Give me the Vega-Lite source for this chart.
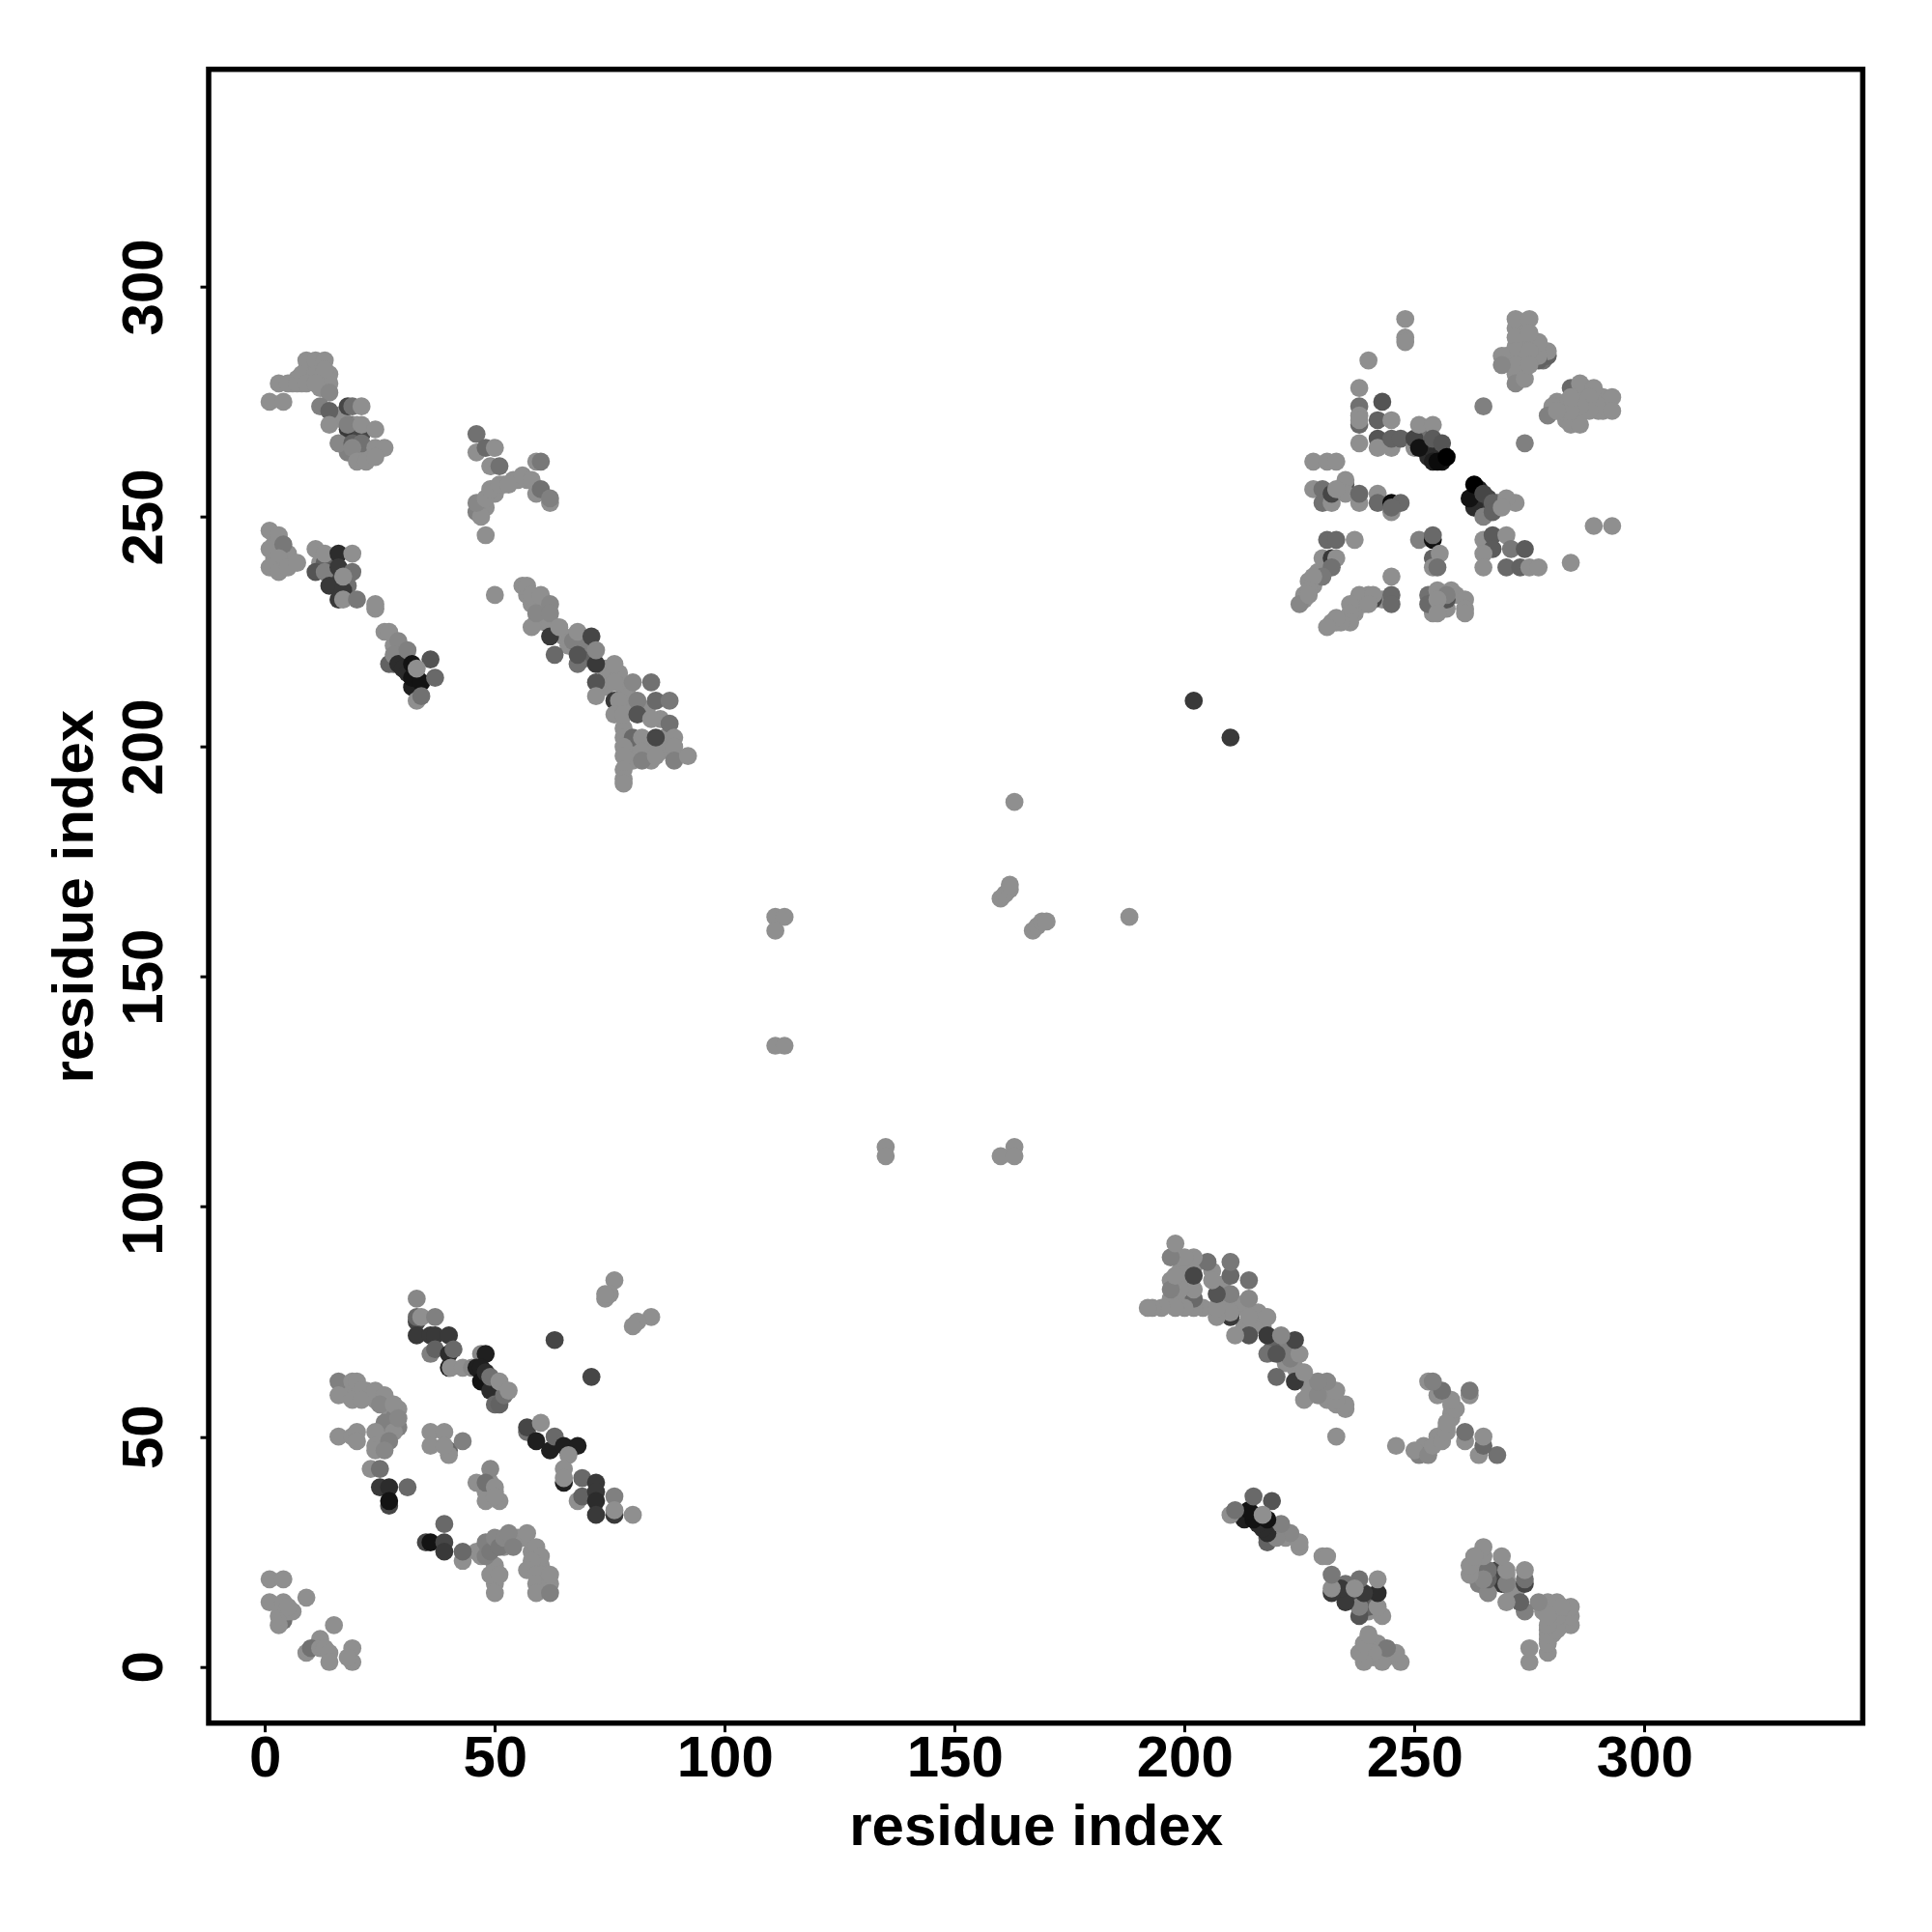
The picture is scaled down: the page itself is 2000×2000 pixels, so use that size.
{"$schema":"https://vega.github.io/schema/vega-lite/v6.json","autosize":{"type":"none"},"padding":{"left":216,"top":71.7,"right":71.7,"bottom":216.3},"width":1712.3,"height":1712,"background":"white","view":{"stroke":"black","strokeWidth":5.5,"fill":"white"},"data":{"values":[
{"i":272,"j":291,"s":0},{"i":272,"j":287,"s":0},{"i":272,"j":285,"s":0},{"i":272,"j":281,"s":0},{"i":273,"j":292,"s":0},{"i":273,"j":290,"s":0},{"i":273,"j":288,"s":0},{"i":273,"j":286,"s":0},{"i":273,"j":284,"s":0},{"i":273,"j":282,"s":0},{"i":273,"j":280,"s":0},{"i":274,"j":291,"s":0},{"i":274,"j":288,"s":0},{"i":274,"j":285,"s":0},{"i":274,"j":283,"s":0},{"i":275,"j":288,"s":0},{"i":276,"j":288,"s":0},{"i":276,"j":286,"s":0},{"i":276,"j":284,"s":0},{"i":278,"j":286,"s":0},{"i":278,"j":284,"s":0.2},{"i":270,"j":285,"s":0},{"i":271,"j":285,"s":0},{"i":271,"j":283,"s":0},
{"i":285,"j":278,"s":0},{"i":287,"j":278,"s":0},{"i":287,"j":276,"s":0},{"i":285,"j":276,"s":0},{"i":290,"j":276,"s":0},{"i":291,"j":276,"s":0},{"i":290,"j":273,"s":0},{"i":291,"j":273,"s":0},{"i":287,"j":273,"s":0},{"i":285,"j":273,"s":0},{"i":283,"j":273,"s":0},{"i":282,"j":273,"s":0},{"i":289,"j":275,"s":0},{"i":286,"j":277,"s":0},{"i":283,"j":271,"s":0},{"i":285,"j":271,"s":0},{"i":287,"j":274,"s":0},{"i":281,"j":275,"s":0},{"i":282,"j":274,"s":0},{"i":290,"j":274,"s":0},
{"i":9,"j":282,"s":0},{"i":10,"j":283,"s":0},{"i":12,"j":283,"s":0},{"i":10,"j":281,"s":0},{"i":12,"j":281,"s":0},{"i":12,"j":280,"s":0},{"i":9,"j":281,"s":0},{"i":10,"j":280,"s":0},{"i":12,"j":278,"s":0},{"i":13,"j":279,"s":0},{"i":14,"j":279,"s":0},{"i":8,"j":279,"s":0},{"i":6,"j":279,"s":0},{"i":7,"j":280,"s":0},{"i":13,"j":280,"s":0},{"i":14,"j":281,"s":0},
{"i":57,"j":233,"s":0},{"i":58,"j":231,"s":0},{"i":59,"j":231,"s":0},{"i":60,"j":230,"s":0},{"i":60,"j":228,"s":0},{"i":61,"j":227,"s":0},{"i":59,"j":227,"s":0},{"i":62,"j":227,"s":0},{"i":63,"j":225,"s":0},{"i":65,"j":224,"s":0},{"i":66,"j":222,"s":0},{"i":67,"j":223,"s":0.1},{"i":70,"j":222,"s":0.1},{"i":69,"j":219,"s":0.3},{"i":74,"j":217,"s":0},{"i":74,"j":213,"s":0},{"i":75,"j":215,"s":0},{"i":77,"j":216,"s":0},{"i":78,"j":213,"s":0},{"i":79,"j":211,"s":0},{"i":83,"j":208,"s":0},{"i":80,"j":208,"s":0},{"i":86,"j":206,"s":0},{"i":78,"j":204,"s":0},{"i":80,"j":200,"s":0},{"i":84,"j":200,"s":0},{"i":87,"j":202,"s":0},{"i":86,"j":199,"s":0},{"i":80,"j":197,"s":0},{"i":84,"j":197,"s":0},
{"i":47,"j":252,"s":0},{"i":48,"j":252,"s":0},{"i":50,"j":255,"s":0},{"i":52,"j":257,"s":0},{"i":54,"j":258,"s":0},{"i":55,"j":258,"s":0},{"i":57,"j":258,"s":0},
{"i":2,"j":244,"s":0},{"i":2,"j":241,"s":0},{"i":5,"j":242,"s":0},{"i":3,"j":243,"s":0},{"i":4,"j":240,"s":0},{"i":12,"j":240,"s":0},{"i":13,"j":240,"s":0.3},{"i":14,"j":238,"s":0.4},{"i":15,"j":237,"s":0.5},{"i":16,"j":236,"s":0.5},{"i":17,"j":236,"s":0.3},{"i":18,"j":235,"s":0.2},
{"i":28,"j":222,"s":0},{"i":29,"j":220,"s":0.2},{"i":30,"j":220,"s":0.2},{"i":30,"j":219,"s":0.5},{"i":31,"j":218,"s":0.8},{"i":33,"j":215,"s":0.8},{"i":32,"j":213,"s":0.8},{"i":28,"j":218,"s":0.3},
{"i":15,"j":272,"s":0},{"i":16,"j":272,"s":0},{"i":17,"j":271,"s":0},{"i":19,"j":270,"s":0.2},{"i":20,"j":268,"s":0.1},{"i":20,"j":270,"s":0},{"i":20,"j":265,"s":0.1},{"i":21,"j":264,"s":0.1},{"i":22,"j":264,"s":0},{"i":23,"j":264,"s":0},{"i":18,"j":266,"s":0.3},{"i":18,"j":264,"s":0.1},
{"i":27,"j":52,"s":0},{"i":27,"j":54,"s":0},{"i":28,"j":53,"s":0},{"i":25,"j":50,"s":0},{"i":26,"j":50,"s":0},{"i":25,"j":49,"s":0},{"i":27,"j":51,"s":0},{"i":22,"j":60,"s":0},{"i":23,"j":59,"s":0},{"i":24,"j":58,"s":0},{"i":18,"j":60,"s":0},{"i":18,"j":59,"s":0},{"i":27,"j":56,"s":0},{"i":29,"j":56,"s":0},
{"i":50,"j":26,"s":0},{"i":52,"j":26,"s":0},{"i":53,"j":27,"s":0},{"i":55,"j":28,"s":0},{"i":56,"j":28,"s":0},{"i":58,"j":25,"s":0},{"i":58,"j":21,"s":0},{"i":60,"j":22,"s":0},{"i":60,"j":19,"s":0},{"i":61,"j":20,"s":0},{"i":50,"j":22,"s":0},{"i":50,"j":18,"s":0},{"i":48,"j":25,"s":0},{"i":46,"j":25,"s":0},{"i":48,"j":38,"s":0},{"i":49,"j":38,"s":0},{"i":50,"j":38,"s":0},{"i":49,"j":40,"s":0},
{"i":250,"j":266,"s":0.3},{"i":252,"j":268,"s":0.2},{"i":253,"j":265,"s":0.6},{"i":253,"j":263,"s":0.7},{"i":255,"j":264,"s":0.7},{"i":256,"j":264,"s":0.7},{"i":256,"j":262,"s":0.9},{"i":264,"j":256,"s":0.8},{"i":264,"j":254,"s":0.8},{"i":266,"j":254,"s":0.5},{"i":266,"j":252,"s":0.6},{"i":268,"j":253,"s":0.3},{"i":272,"j":253,"s":0},{"i":269,"j":253,"s":0},
{"i":254,"j":232,"s":0},{"i":256,"j":231,"s":0},{"i":256,"j":233,"s":0},{"i":259,"j":233,"s":0},{"i":254,"j":229,"s":0},{"i":257,"j":230,"s":0},{"i":226,"j":233,"s":0},{"i":226,"j":232,"s":0},{"i":228,"j":235,"s":0},{"i":229,"j":238,"s":0},{"i":239,"j":231,"s":0},{"i":240,"j":233,"s":0},{"i":243,"j":232,"s":0},{"i":237,"j":229,"s":0},{"i":232,"j":227,"s":0},{"i":233,"j":227,"s":0},
{"j":9,"i":282,"s":0},{"j":10,"i":283,"s":0},{"j":12,"i":283,"s":0},{"j":10,"i":281,"s":0},{"j":12,"i":281,"s":0},{"j":12,"i":280,"s":0},{"j":9,"i":281,"s":0},{"j":10,"i":280,"s":0},{"j":12,"i":278,"s":0},{"j":13,"i":279,"s":0},{"j":14,"i":279,"s":0},{"j":8,"i":279,"s":0},{"j":6,"i":279,"s":0},{"j":7,"i":280,"s":0},{"j":13,"i":280,"s":0},{"j":14,"i":281,"s":0},
{"j":57,"i":233,"s":0},{"j":58,"i":231,"s":0},{"j":59,"i":231,"s":0},{"j":60,"i":230,"s":0},{"j":60,"i":228,"s":0},{"j":61,"i":227,"s":0},{"j":59,"i":227,"s":0},{"j":62,"i":227,"s":0},{"j":63,"i":225,"s":0},{"j":65,"i":224,"s":0},{"j":66,"i":222,"s":0},{"j":67,"i":223,"s":0.1},{"j":70,"i":222,"s":0.1},{"j":69,"i":219,"s":0.3},{"j":74,"i":217,"s":0},{"j":74,"i":213,"s":0},{"j":75,"i":215,"s":0},{"j":77,"i":216,"s":0},{"j":78,"i":213,"s":0},{"j":79,"i":211,"s":0},{"j":83,"i":208,"s":0},{"j":80,"i":208,"s":0},{"j":86,"i":206,"s":0},{"j":78,"i":204,"s":0},{"j":80,"i":200,"s":0},{"j":84,"i":200,"s":0},{"j":87,"i":202,"s":0},{"j":86,"i":199,"s":0},{"j":80,"i":197,"s":0},{"j":84,"i":197,"s":0},
{"j":47,"i":252,"s":0},{"j":48,"i":252,"s":0},{"j":50,"i":255,"s":0},{"j":52,"i":257,"s":0},{"j":54,"i":258,"s":0},{"j":55,"i":258,"s":0},{"j":57,"i":258,"s":0},
{"j":2,"i":244,"s":0},{"j":2,"i":241,"s":0},{"j":5,"i":242,"s":0},{"j":3,"i":243,"s":0},{"j":4,"i":240,"s":0},{"j":12,"i":240,"s":0},{"j":13,"i":240,"s":0.3},{"j":14,"i":238,"s":0.4},{"j":15,"i":237,"s":0.5},{"j":16,"i":236,"s":0.5},{"j":17,"i":236,"s":0.3},{"j":18,"i":235,"s":0.2},
{"j":28,"i":222,"s":0},{"j":29,"i":220,"s":0.2},{"j":30,"i":220,"s":0.2},{"j":30,"i":219,"s":0.5},{"j":31,"i":218,"s":0.8},{"j":33,"i":215,"s":0.8},{"j":32,"i":213,"s":0.8},{"j":28,"i":218,"s":0.3},
{"j":15,"i":272,"s":0},{"j":16,"i":272,"s":0},{"j":17,"i":271,"s":0},{"j":19,"i":270,"s":0.2},{"j":20,"i":268,"s":0.1},{"j":20,"i":270,"s":0},{"j":20,"i":265,"s":0.1},{"j":21,"i":264,"s":0.1},{"j":22,"i":264,"s":0},{"j":23,"i":264,"s":0},{"j":18,"i":266,"s":0.3},{"j":18,"i":264,"s":0.1},
{"i":76,"j":84,"s":0},{"i":74,"j":80,"s":0},{"i":75,"j":81,"s":0},{"i":74,"j":81,"s":0},{"i":84,"j":76,"s":0},{"i":81,"j":75,"s":0},{"i":80,"j":74,"s":0},{"i":63,"j":71,"s":0.5},{"i":71,"j":63,"s":0.5},{"i":33,"j":80,"s":0.05},
{"i":33,"j":75,"s":0.5},{"i":33,"j":76,"s":0.25},{"i":34,"j":76,"s":0},{"i":37,"j":76,"s":0.1},{"i":33,"j":72,"s":0.6},{"i":36,"j":72,"s":0.6},{"i":37,"j":72,"s":0.6},{"i":40,"j":72,"s":0.6},{"i":36,"j":68,"s":0.1},{"i":37,"j":69,"s":0.3},{"i":40,"j":68,"s":0.7},{"i":41,"j":69,"s":0.25},{"i":40,"j":65,"s":0.8},{"i":40.4,"j":65,"s":0},{"i":43,"j":65,"s":0},{"i":45,"j":65,"s":0.05},
{"i":47,"j":68,"s":0.05},{"i":48,"j":68,"s":0.8},{"i":46,"j":65,"s":0.8},{"i":47,"j":65,"s":0.8},{"i":47,"j":62,"s":0.9},{"i":48,"j":64,"s":0.7},{"i":49,"j":60,"s":0.7},{"i":49,"j":63,"s":0.2},{"i":50,"j":57,"s":0.25},{"i":51,"j":57,"s":0.3},{"i":52,"j":59,"s":0.2},{"i":51,"j":62,"s":0},{"i":53,"j":60,"s":0},
{"i":57,"j":51,"s":0.2},{"i":57,"j":52,"s":0.5},{"i":59,"j":49,"s":0.8},{"i":60,"j":53,"s":0},{"i":62,"j":47,"s":0.8},{"i":63,"j":50,"s":0.25},{"i":65,"j":48,"s":0.8},{"i":68,"j":48,"s":0.8},{"i":66,"j":46,"s":0},{"i":65,"j":43,"s":0},{"i":65,"j":40,"s":0.8},{"i":65,"j":41,"s":0},{"i":69,"j":41,"s":0.25},{"i":72,"j":40,"s":0.6},{"i":68,"j":36,"s":0},{"i":69,"j":37,"s":0.3},{"i":72,"j":38,"s":0.6},{"i":72,"j":36,"s":0.7},{"i":72,"j":33,"s":0.6},{"i":76,"j":37,"s":0.1},{"i":76,"j":33,"s":0.6},{"i":76,"j":34,"s":0},{"i":80,"j":33,"s":0},
{"i":16,"j":62,"s":0.1},{"i":16,"j":59,"s":0},{"i":19,"j":62,"s":0},{"i":20,"j":62,"s":0},{"i":21,"j":60,"s":0},{"i":19,"j":58,"s":0},{"i":21,"j":58,"s":0},{"i":24,"j":60,"s":0},{"i":26,"j":59,"s":0},{"i":25,"j":57,"s":0.05},{"i":28,"j":54,"s":0.1},{"i":29,"j":52,"s":0.1},{"i":26,"j":53,"s":0.1},{"i":28,"j":51,"s":0},{"i":24,"j":51,"s":0},{"i":24,"j":48,"s":0},{"i":27,"j":49,"s":0.1},{"i":24,"j":47,"s":0},{"i":26,"j":47,"s":0.05},{"i":28,"j":57,"s":0},{"i":29,"j":54,"s":0.05},
{"i":16,"j":50,"s":0},{"i":19,"j":50,"s":0},{"i":20,"j":51,"s":0},{"i":20,"j":49,"s":0},{"i":23,"j":43,"s":0},{"i":25,"j":43,"s":0.2},{"i":25,"j":39,"s":0.6},{"i":27,"j":39,"s":0.7},{"i":31,"j":39,"s":0.25},{"i":27,"j":35,"s":0.5},{"i":27,"j":36,"s":0.9},
{"i":36,"j":51,"s":0},{"i":36,"j":48,"s":0},{"i":39,"j":51,"s":0},{"i":40,"j":47,"s":0.25},{"i":40,"j":46,"s":0},{"i":39,"j":48,"s":0},{"i":43,"j":49,"s":0.1},
{"i":39,"j":31,"s":0.25},{"i":35,"j":27,"s":0.5},{"i":36,"j":27,"s":0.9},{"i":39,"j":27,"s":0.5},{"i":39,"j":25,"s":0.6},{"i":43,"j":23,"s":0},{"i":43,"j":25,"s":0.25},
{"i":49,"j":43,"s":0.05},{"i":46,"j":40,"s":0},{"i":48,"j":40,"s":0.2},{"i":50,"j":39,"s":0},{"i":48,"j":36,"s":0},{"i":51,"j":36,"s":0},{"i":50,"j":37,"s":0},
{"i":47,"j":24,"s":0},{"i":48,"j":27,"s":0.1},{"i":48,"j":24,"s":0.1},{"i":49,"j":25,"s":0.15},{"i":50,"j":28,"s":0.05},{"i":51,"j":26,"s":0.15},{"i":52,"j":28,"s":0.05},{"i":53,"j":29,"s":0.05},{"i":54,"j":26,"s":0.1},{"i":57,"j":29,"s":0},{"i":59,"j":26,"s":0},{"i":60,"j":24,"s":0},{"i":58,"j":23,"s":0},{"i":57,"j":21,"s":0},{"i":59,"j":20,"s":0},{"i":59,"j":18,"s":0},{"i":62,"j":18,"s":0},{"i":62,"j":20,"s":0},{"i":59,"j":16,"s":0},{"i":62,"j":16,"s":0.1},{"i":49,"j":20,"s":0},{"i":51,"j":20,"s":0},{"i":50,"j":16,"s":0},
{"i":1,"j":19,"s":0},{"i":4,"j":19,"s":0},{"i":1,"j":14,"s":0},{"i":4,"j":10,"s":0.2},{"i":3,"j":9,"s":0},{"i":3,"j":11,"s":0},{"i":4,"j":14,"s":0},{"i":9,"j":15,"s":0},{"i":5,"j":12,"s":0},{"i":6,"j":12,"s":0},{"i":5,"j":13,"s":0},
{"i":15,"j":9,"s":0},{"i":12,"j":6,"s":0},{"i":9,"j":3,"s":0},{"i":10,"j":4,"s":0.2},{"i":12,"j":4,"s":0},{"i":13,"j":4,"s":0},{"i":14,"j":3,"s":0},{"i":14,"j":1,"s":0},{"i":19,"j":4,"s":0},{"i":19,"j":1,"s":0},{"i":18,"j":2,"s":0},
{"i":202,"j":210,"s":0.6},{"i":210,"j":202,"s":0.6},{"i":163,"j":188,"s":0},{"i":188,"j":163,"s":0},{"i":160,"j":167,"s":0},{"i":161,"j":168,"s":0},{"i":162,"j":169,"s":0},{"i":162,"j":170,"s":0},{"i":167,"j":160,"s":0},{"i":168,"j":161,"s":0},{"i":169,"j":162,"s":0},{"i":170,"j":162,"s":0},{"i":111,"j":163,"s":0},{"i":113,"j":163,"s":0},{"i":111,"j":160,"s":0},{"i":111,"j":135,"s":0},{"i":113,"j":135,"s":0},{"i":135,"j":113,"s":0},{"i":135,"j":111,"s":0},{"i":160,"j":111,"s":0},{"i":163,"j":113,"s":0},{"i":163,"j":111,"s":0},
{"i":248,"j":293,"s":0},{"i":248,"j":289,"s":0},{"i":248,"j":288,"s":0},{"i":240,"j":284,"s":0},{"i":238,"j":278,"s":0},{"i":238,"j":274,"s":0.2},{"i":238,"j":272,"s":0},{"i":238,"j":270,"s":0.25},{"i":238,"j":271,"s":0},{"i":243,"j":275,"s":0.4},{"i":242,"j":271,"s":0.3},{"i":245,"j":271,"s":0},{"i":242,"j":267,"s":0.4},{"i":238,"j":266,"s":0},{"i":242,"j":265,"s":0},{"i":245,"j":265,"s":0},{"i":245,"j":267,"s":0.3},{"i":247,"j":267,"s":0.3},
{"i":250,"j":265,"s":0},{"i":250,"j":267,"s":0.5},{"i":251,"j":270,"s":0},{"i":254,"j":270,"s":0},{"i":251,"j":265,"s":0.9},{"i":254,"j":267,"s":0.35},{"i":256,"j":266,"s":0.4},{"i":254,"j":262,"s":0.8},{"i":255,"j":262,"s":0.95},{"i":257,"j":263,"s":1},{"i":265,"j":274,"s":0.1},{"i":274,"j":266,"s":0.1},
{"i":228,"j":262,"s":0},{"i":231,"j":262,"s":0},{"i":233,"j":262,"s":0},{"i":235,"j":257,"s":0.4},{"i":235,"j":258,"s":0},{"i":228,"j":256,"s":0},{"i":230,"j":256,"s":0.2},{"i":230,"j":253,"s":0.2},{"i":232,"j":253,"s":0},{"i":232,"j":255,"s":0.5},{"i":235,"j":255,"s":0},{"i":233,"j":256,"s":0},
{"i":238,"j":253,"s":0},{"i":238,"j":255,"s":0.25},{"i":242,"j":255,"s":0},{"i":242,"j":253,"s":0.25},{"i":245,"j":251,"s":0},{"i":245,"j":253,"s":0.95},{"i":247,"j":253,"s":0.25},{"i":245,"j":252,"s":0.25},
{"i":263,"j":252,"s":0.7},{"i":262,"j":254,"s":0.9},{"i":263,"j":257,"s":1},{"i":265,"j":255,"s":0.5},{"i":265,"j":250,"s":0.1},{"i":267,"j":253,"s":0.3},{"i":267,"j":251,"s":0.3},{"i":270,"j":254,"s":0},{"i":269,"j":252,"s":0},
{"i":231,"j":245,"s":0.25},{"i":233,"j":245,"s":0.25},{"i":237,"j":245,"s":0},{"i":230,"j":241,"s":0},{"i":232,"j":241,"s":0.6},{"i":233,"j":241,"s":0},{"i":232,"j":239,"s":0.2},{"i":230,"j":237,"s":0.15},{"i":227,"j":236,"s":0},{"i":228,"j":237,"s":0},{"i":227,"j":234,"s":0},{"i":225,"j":231,"s":0.05},{"i":227,"j":233,"s":0},
{"i":251,"j":245,"s":0.1},{"i":254,"j":245,"s":0.9},{"i":254,"j":246,"s":0.25},{"i":254,"j":241,"s":0.3},{"i":255.5,"j":242,"s":0},{"i":254,"j":239,"s":0},{"i":255,"j":239,"s":0.2},
{"i":265,"j":245,"s":0},{"i":267,"j":246,"s":0.35},{"i":267,"j":243,"s":0.35},{"i":270,"j":246,"s":0},{"i":265,"j":242,"s":0},{"i":265,"j":239,"s":0},{"i":271,"j":243,"s":0.15},{"i":274,"j":243,"s":0.35},{"i":270,"j":239,"s":0.25},{"i":273,"j":239,"s":0.3},{"i":275,"j":239,"s":0},{"i":277,"j":239,"s":0},{"i":284,"j":240,"s":0},{"i":289,"j":248,"s":0},{"i":293,"j":248,"s":0},
{"i":245,"j":237,"s":0},{"i":238,"j":233,"s":0},{"i":241,"j":232,"s":0.5},{"i":241,"j":233,"s":0},{"i":240,"j":231,"s":0},{"i":245,"j":233,"s":0.25},{"i":245,"j":231,"s":0.25},{"i":236,"j":231,"s":0},{"i":236,"j":229,"s":0},{"i":236,"j":227,"s":0},{"i":234,"j":227,"s":0},{"i":233,"j":228,"s":0},{"i":231,"j":226,"s":0},
{"i":253,"j":233,"s":0.2},{"i":253,"j":231,"s":0.25},{"i":257,"j":232,"s":0.4},{"i":255,"j":234,"s":0},{"i":258,"j":234,"s":0},{"i":257,"j":233,"s":0.1},{"i":255,"j":232,"s":0},{"i":255,"j":229,"s":0},{"i":261,"j":232,"s":0},{"i":261,"j":230,"s":0},{"i":261,"j":229,"s":0},
{"i":272,"j":293,"s":0},{"i":275,"j":293,"s":0},{"i":272,"j":289,"s":0},{"i":272,"j":286,"s":0},{"i":272,"j":283,"s":0},{"i":272,"j":279,"s":0.05},{"i":274,"j":280,"s":0},{"i":269,"j":285,"s":0},{"i":269,"j":283,"s":0.05},{"i":279,"j":285,"s":0.3},{"i":279,"j":286,"s":0},{"i":277,"j":284,"s":0.3},{"i":277,"j":285,"s":0},{"i":277,"j":288,"s":0},{"i":275,"j":290,"s":0},{"i":275,"j":286,"s":0},{"i":275,"j":283,"s":0},
{"i":284,"j":278,"s":0.25},{"i":286,"j":279,"s":0},{"i":289,"j":278,"s":0},{"i":293,"j":276,"s":0},{"i":293,"j":273,"s":0},{"i":288,"j":276,"s":0},{"i":288,"j":273,"s":0},{"i":286,"j":274,"s":0},{"i":280,"j":274,"s":0},{"i":279,"j":272,"s":0.1},{"i":284,"j":270,"s":0},{"i":286,"j":270,"s":0},{"i":284,"j":273,"s":0},{"i":284,"j":276,"s":0},{"i":281,"j":273,"s":0},
{"i":1,"j":275,"s":0},{"i":4,"j":275,"s":0},{"i":3,"j":279,"s":0},{"i":5,"j":279,"s":0},{"i":7,"j":279,"s":0},{"i":9,"j":284,"s":0},{"i":11,"j":284,"s":0},{"i":13,"j":284,"s":0},{"i":8,"j":281,"s":0},{"i":11,"j":281,"s":0},{"i":13,"j":282,"s":0},{"i":9,"j":279,"s":0},{"i":11,"j":279,"s":0},{"i":14,"j":277,"s":0.05},{"i":12,"j":274,"s":0.1},{"i":14,"j":273,"s":0.3},{"i":14,"j":270,"s":0},{"i":18,"j":274,"s":0.5},{"i":19,"j":274,"s":0.2},{"i":18,"j":269,"s":0.6},{"i":21,"j":268,"s":0.5},{"i":18,"j":270,"s":0.1},{"i":21,"j":274,"s":0},{"i":21,"j":270,"s":0},{"i":24,"j":269,"s":0},{"i":16,"j":266,"s":0.05},{"i":19,"j":266,"s":0.3},{"i":21,"j":266,"s":0.2},{"i":19,"j":265,"s":0.05},{"i":24,"j":265,"s":0},{"i":26,"j":265,"s":0},{"i":20,"j":262,"s":0},{"i":22,"j":262,"s":0},{"i":24,"j":263,"s":0},
{"i":46,"j":268,"s":0.2},{"i":46,"j":264,"s":0},{"i":48,"j":265,"s":0.25},{"i":50,"j":265,"s":0},{"i":49,"j":261,"s":0},{"i":51,"j":261,"s":0.2},{"i":59,"j":262,"s":0},{"i":60,"j":262,"s":0.15},{"i":46,"j":251,"s":0.1},{"i":47,"j":250,"s":0},{"i":46,"j":253,"s":0.05},{"i":48,"j":254,"s":0},{"i":49,"j":256,"s":0},{"i":51,"j":257,"s":0},{"i":53,"j":257,"s":0},{"i":56,"j":259,"s":0},{"i":58,"j":258,"s":0},{"i":59,"j":255,"s":0},{"i":60,"j":256,"s":0.2},{"i":62,"j":253,"s":0},{"i":62,"j":254,"s":0.1},{"i":48,"j":246,"s":0},{"i":50,"j":233,"s":0},
{"i":1,"j":247,"s":0},{"i":3,"j":246,"s":0},{"i":1,"j":243,"s":0},{"i":4,"j":244,"s":0.15},{"i":3,"j":241,"s":0},{"i":1,"j":239,"s":0},{"i":3,"j":238,"s":0},{"i":5,"j":239,"s":0},{"i":7,"j":240,"s":0},{"i":11,"j":238,"s":0.4},{"i":13,"j":238,"s":0.1},{"i":11,"j":243,"s":0},{"i":13,"j":242,"s":0},{"i":16,"j":242,"s":0.7},{"i":16,"j":239,"s":0.6},{"i":19,"j":242,"s":0},{"i":19,"j":238,"s":0.2},{"i":14,"j":235,"s":0.6},{"i":17,"j":234,"s":0.6},{"i":16,"j":232,"s":0.6},{"i":17,"j":232,"s":0},{"i":17,"j":237,"s":0},{"i":20,"j":232,"s":0.15},{"i":24,"j":230,"s":0},{"i":24,"j":231,"s":0},
{"i":26,"j":225,"s":0},{"i":27,"j":225,"s":0},{"i":29,"j":223,"s":0.05},{"i":27,"j":218,"s":0.3},{"i":28,"j":220,"s":0.05},{"i":29,"j":218,"s":0.7},{"i":30,"j":217,"s":0.7},{"i":31,"j":216,"s":0.7},{"i":31,"j":221,"s":0.1},{"i":32,"j":218,"s":0.9},{"i":32,"j":215,"s":0.9},{"i":34,"j":214,"s":0.9},{"i":36,"j":219,"s":0.4},{"i":33,"j":217,"s":0},{"i":37,"j":215,"s":0.25},{"i":33,"j":210,"s":0},{"i":34,"j":211,"s":0.2},
{"i":56,"j":235,"s":0},{"i":57,"j":235,"s":0},{"i":58,"j":233,"s":0},{"i":60,"j":233,"s":0},{"i":62,"j":231,"s":0.05},{"i":58,"j":226,"s":0},{"i":59,"j":229,"s":0.05},{"i":62,"j":229,"s":0.05},{"i":62,"j":224,"s":0.6},{"i":63,"j":220,"s":0.25},{"i":64,"j":226,"s":0},{"i":68,"j":218,"s":0.2},{"i":68,"j":220,"s":0.4},{"i":68,"j":225,"s":0},{"i":71,"j":224,"s":0.5},{"i":72,"j":218,"s":0.6},{"i":72,"j":221,"s":0.05},{"i":76,"j":218,"s":0},{"i":72,"j":214,"s":0.4},{"i":72,"j":211,"s":0},{"i":76,"j":210,"s":0.6},{"i":76,"j":214,"s":0},{"i":77,"j":210,"s":0},{"i":80,"j":214,"s":0.05},{"i":84,"j":214,"s":0.2},{"i":81,"j":210,"s":0.1},{"i":85,"j":210,"s":0.25},{"i":88,"j":210,"s":0.15},{"i":76,"j":207,"s":0},{"i":78,"j":207,"s":0},{"i":81,"j":207,"s":0.4},{"i":84,"j":206,"s":0},{"i":88,"j":205,"s":0.2},
{"i":78,"j":202,"s":0},{"i":80,"j":202,"s":0.25},{"i":82,"j":202,"s":0},{"i":85,"j":202,"s":0.5},{"i":89,"j":202,"s":0},{"i":78,"j":200,"s":0},{"i":78,"j":198,"s":0},{"i":82,"j":199,"s":0},{"i":82,"j":197,"s":0.1},{"i":85,"j":198,"s":0},{"i":89,"j":200,"s":0},{"i":89,"j":197,"s":0.1},{"i":92,"j":198,"s":0},{"i":78,"j":195,"s":0},{"i":78,"j":193,"s":0},{"i":78,"j":192,"s":0},
{"j":1,"i":275,"s":0},{"j":4,"i":275,"s":0},{"j":3,"i":279,"s":0},{"j":5,"i":279,"s":0},{"j":7,"i":279,"s":0},{"j":9,"i":284,"s":0},{"j":11,"i":284,"s":0},{"j":13,"i":284,"s":0},{"j":8,"i":281,"s":0},{"j":11,"i":281,"s":0},{"j":13,"i":282,"s":0},{"j":9,"i":279,"s":0},{"j":11,"i":279,"s":0},{"j":14,"i":277,"s":0.05},{"j":12,"i":274,"s":0.1},{"j":14,"i":273,"s":0.3},{"j":14,"i":270,"s":0},{"j":18,"i":274,"s":0.5},{"j":19,"i":274,"s":0.2},{"j":18,"i":269,"s":0.6},{"j":21,"i":268,"s":0.5},{"j":18,"i":270,"s":0.1},{"j":21,"i":274,"s":0},{"j":21,"i":270,"s":0},{"j":24,"i":269,"s":0},{"j":16,"i":266,"s":0.05},{"j":19,"i":266,"s":0.3},{"j":21,"i":266,"s":0.2},{"j":19,"i":265,"s":0.05},{"j":24,"i":265,"s":0},{"j":26,"i":265,"s":0},{"j":20,"i":262,"s":0},{"j":22,"i":262,"s":0},{"j":24,"i":263,"s":0},
{"j":46,"i":268,"s":0.2},{"j":46,"i":264,"s":0},{"j":48,"i":265,"s":0.25},{"j":50,"i":265,"s":0},{"j":49,"i":261,"s":0},{"j":51,"i":261,"s":0.2},{"j":59,"i":262,"s":0},{"j":60,"i":262,"s":0.15},{"j":46,"i":251,"s":0.1},{"j":47,"i":250,"s":0},{"j":46,"i":253,"s":0.05},{"j":48,"i":254,"s":0},{"j":49,"i":256,"s":0},{"j":51,"i":257,"s":0},{"j":53,"i":257,"s":0},{"j":56,"i":259,"s":0},{"j":58,"i":258,"s":0},{"j":59,"i":255,"s":0},{"j":60,"i":256,"s":0.2},{"j":62,"i":253,"s":0},{"j":62,"i":254,"s":0.1},{"j":48,"i":246,"s":0},{"j":50,"i":233,"s":0},
{"j":1,"i":247,"s":0},{"j":3,"i":246,"s":0},{"j":1,"i":243,"s":0},{"j":4,"i":244,"s":0.15},{"j":3,"i":241,"s":0},{"j":1,"i":239,"s":0},{"j":3,"i":238,"s":0},{"j":5,"i":239,"s":0},{"j":7,"i":240,"s":0},{"j":11,"i":238,"s":0.4},{"j":13,"i":238,"s":0.1},{"j":11,"i":243,"s":0},{"j":13,"i":242,"s":0},{"j":16,"i":242,"s":0.7},{"j":16,"i":239,"s":0.6},{"j":19,"i":242,"s":0},{"j":19,"i":238,"s":0.2},{"j":14,"i":235,"s":0.6},{"j":17,"i":234,"s":0.6},{"j":16,"i":232,"s":0.6},{"j":17,"i":232,"s":0},{"j":17,"i":237,"s":0},{"j":20,"i":232,"s":0.15},{"j":24,"i":230,"s":0},{"j":24,"i":231,"s":0},
{"j":26,"i":225,"s":0},{"j":27,"i":225,"s":0},{"j":29,"i":223,"s":0.05},{"j":27,"i":218,"s":0.3},{"j":28,"i":220,"s":0.05},{"j":29,"i":218,"s":0.7},{"j":30,"i":217,"s":0.7},{"j":31,"i":216,"s":0.7},{"j":31,"i":221,"s":0.1},{"j":32,"i":218,"s":0.9},{"j":32,"i":215,"s":0.9},{"j":34,"i":214,"s":0.9},{"j":36,"i":219,"s":0.4},{"j":33,"i":217,"s":0},{"j":37,"i":215,"s":0.25},{"j":33,"i":210,"s":0},{"j":34,"i":211,"s":0.2},
{"j":56,"i":235,"s":0},{"j":57,"i":235,"s":0},{"j":58,"i":233,"s":0},{"j":60,"i":233,"s":0},{"j":62,"i":231,"s":0.05},{"j":58,"i":226,"s":0},{"j":59,"i":229,"s":0.05},{"j":62,"i":229,"s":0.05},{"j":62,"i":224,"s":0.6},{"j":63,"i":220,"s":0.25},{"j":64,"i":226,"s":0},{"j":68,"i":218,"s":0.2},{"j":68,"i":220,"s":0.4},{"j":68,"i":225,"s":0},{"j":71,"i":224,"s":0.5},{"j":72,"i":218,"s":0.6},{"j":72,"i":221,"s":0.05},{"j":76,"i":218,"s":0},{"j":72,"i":214,"s":0.4},{"j":72,"i":211,"s":0},{"j":76,"i":210,"s":0.6},{"j":76,"i":214,"s":0},{"j":77,"i":210,"s":0},{"j":80,"i":214,"s":0.05},{"j":84,"i":214,"s":0.2},{"j":81,"i":210,"s":0.1},{"j":85,"i":210,"s":0.25},{"j":88,"i":210,"s":0.15},{"j":76,"i":207,"s":0},{"j":78,"i":207,"s":0},{"j":81,"i":207,"s":0.4},{"j":84,"i":206,"s":0},{"j":88,"i":205,"s":0.2},
{"j":78,"i":202,"s":0},{"j":80,"i":202,"s":0.25},{"j":82,"i":202,"s":0},{"j":85,"i":202,"s":0.5},{"j":89,"i":202,"s":0},{"j":78,"i":200,"s":0},{"j":78,"i":198,"s":0},{"j":82,"i":199,"s":0},{"j":82,"i":197,"s":0.1},{"j":85,"i":198,"s":0},{"j":89,"i":200,"s":0},{"j":89,"i":197,"s":0.1},{"j":92,"i":198,"s":0},{"j":78,"i":195,"s":0},{"j":78,"i":193,"s":0},{"j":78,"i":192,"s":0}
]},
"mark":{"type":"point","shape":"circle","filled":true,"opacity":1,"size":350,"strokeWidth":0},
"encoding":{
"x":{"field":"i","type":"quantitative","scale":{"domain":[-12.25,347.5],"nice":false,"zero":false},"axis":{"title":"residue index","values":[0,50,100,150,200,250,300],"grid":false,"domain":false,"tickColor":"black","tickWidth":3,"tickSize":9,"labelFont":"Liberation Sans","labelFontWeight":"bold","labelFontSize":60,"labelColor":"black","labelPadding":-1,"labelFlush":false,"labelOverlap":false,"titleFont":"Liberation Sans","titleFontWeight":"bold","titleFontSize":60,"titleColor":"black","titlePadding":12}},
"y":{"field":"j","type":"quantitative","scale":{"domain":[-12.27,347.3],"nice":false,"zero":false},"axis":{"title":"residue index","values":[0,50,100,150,200,250,300],"grid":false,"domain":false,"tickColor":"black","tickWidth":3,"tickSize":9,"labelFont":"Liberation Sans","labelFontWeight":"bold","labelFontSize":60,"labelColor":"black","labelAngle":270,"labelAlign":"center","labelBaseline":"bottom","labelPadding":27,"labelFlush":false,"labelOverlap":false,"titleFont":"Liberation Sans","titleFontWeight":"bold","titleFontSize":60,"titleColor":"black","titlePadding":11}},
"color":{"field":"s","type":"quantitative","legend":null,"scale":{"domain":[0,1],"range":["#8f8f8f","#000000"]}}
}}
